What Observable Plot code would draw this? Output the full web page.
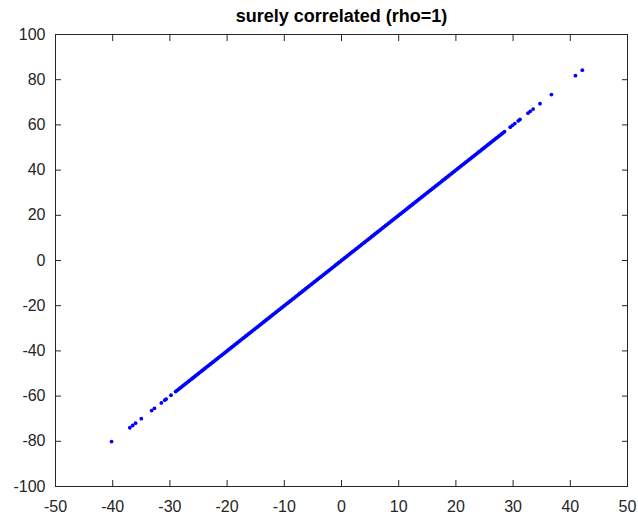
<!DOCTYPE html>
<html><head><meta charset="utf-8">
<script src="https://cdn.jsdelivr.net/npm/d3@7"></script>
<script src="https://cdn.jsdelivr.net/npm/@observablehq/plot@0.6"></script>
<style>body{margin:0;background:#fff} svg{display:block}</style>
</head><body><div id="chart"></div>
<script>
const title = "surely correlated (rho=1)";
const xTicks = [-50,-40,-30,-20,-10,0,10,20,30,40,50];
const yTicks = [-100,-80,-60,-40,-20,0,20,40,60,80,100];

const denseX = [
-29,-28.75,-28.5,-28.25,-28,-27.75,-27.5,-27.25,-27,-26.75,-26.5,-26.25,-26,-25.75,-25.5,-25.25,-25,-24.75,-24.5,-24.25,
-24,-23.75,-23.5,-23.25,-23,-22.75,-22.5,-22.25,-22,-21.75,-21.5,-21.25,-21,-20.75,-20.5,-20.25,-20,-19.75,-19.5,-19.25,
-19,-18.75,-18.5,-18.25,-18,-17.75,-17.5,-17.25,-17,-16.75,-16.5,-16.25,-16,-15.75,-15.5,-15.25,-15,-14.75,-14.5,-14.25,
-14,-13.75,-13.5,-13.25,-13,-12.75,-12.5,-12.25,-12,-11.75,-11.5,-11.25,-11,-10.75,-10.5,-10.25,-10,-9.75,-9.5,-9.25,
-9,-8.75,-8.5,-8.25,-8,-7.75,-7.5,-7.25,-7,-6.75,-6.5,-6.25,-6,-5.75,-5.5,-5.25,-5,-4.75,-4.5,-4.25,
-4,-3.75,-3.5,-3.25,-3,-2.75,-2.5,-2.25,-2,-1.75,-1.5,-1.25,-1,-0.75,-0.5,-0.25,0,0.25,0.5,0.75,
1,1.25,1.5,1.75,2,2.25,2.5,2.75,3,3.25,3.5,3.75,4,4.25,4.5,4.75,5,5.25,5.5,5.75,
6,6.25,6.5,6.75,7,7.25,7.5,7.75,8,8.25,8.5,8.75,9,9.25,9.5,9.75,10,10.25,10.5,10.75,
11,11.25,11.5,11.75,12,12.25,12.5,12.75,13,13.25,13.5,13.75,14,14.25,14.5,14.75,15,15.25,15.5,15.75,
16,16.25,16.5,16.75,17,17.25,17.5,17.75,18,18.25,18.5,18.75,19,19.25,19.5,19.75,20,20.25,20.5,20.75,
21,21.25,21.5,21.75,22,22.25,22.5,22.75,23,23.25,23.5,23.75,24,24.25,24.5,24.75,25,25.25,25.5,25.75,
26,26.25,26.5,26.75,27,27.25,27.5,27.75,28,28.25,28.5
];
const denseY = [
-58,-57.5,-57,-56.5,-56,-55.5,-55,-54.5,-54,-53.5,-53,-52.5,-52,-51.5,-51,-50.5,-50,-49.5,-49,-48.5,
-48,-47.5,-47,-46.5,-46,-45.5,-45,-44.5,-44,-43.5,-43,-42.5,-42,-41.5,-41,-40.5,-40,-39.5,-39,-38.5,
-38,-37.5,-37,-36.5,-36,-35.5,-35,-34.5,-34,-33.5,-33,-32.5,-32,-31.5,-31,-30.5,-30,-29.5,-29,-28.5,
-28,-27.5,-27,-26.5,-26,-25.5,-25,-24.5,-24,-23.5,-23,-22.5,-22,-21.5,-21,-20.5,-20,-19.5,-19,-18.5,
-18,-17.5,-17,-16.5,-16,-15.5,-15,-14.5,-14,-13.5,-13,-12.5,-12,-11.5,-11,-10.5,-10,-9.5,-9,-8.5,
-8,-7.5,-7,-6.5,-6,-5.5,-5,-4.5,-4,-3.5,-3,-2.5,-2,-1.5,-1,-0.5,0,0.5,1,1.5,
2,2.5,3,3.5,4,4.5,5,5.5,6,6.5,7,7.5,8,8.5,9,9.5,10,10.5,11,11.5,
12,12.5,13,13.5,14,14.5,15,15.5,16,16.5,17,17.5,18,18.5,19,19.5,20,20.5,21,21.5,
22,22.5,23,23.5,24,24.5,25,25.5,26,26.5,27,27.5,28,28.5,29,29.5,30,30.5,31,31.5,
32,32.5,33,33.5,34,34.5,35,35.5,36,36.5,37,37.5,38,38.5,39,39.5,40,40.5,41,41.5,
42,42.5,43,43.5,44,44.5,45,45.5,46,46.5,47,47.5,48,48.5,49,49.5,50,50.5,51,51.5,
52,52.5,53,53.5,54,54.5,55,55.5,56,56.5,57
];
const outlierX = [-40.2,-37,-36.5,-36,-35,-33.2,-32.7,-31.5,-30.9,-30.65,-29.8,29.5,29.9,30.3,30.9,31.2,32.6,33,33.5,34.7,36.7,40.9,42.1];
const outlierY = [-80.1,-74,-73,-72,-70,-66.4,-65.4,-63,-61.8,-61.3,-59.6,59,59.8,60.6,61.8,62.4,65.2,66,67,69.4,73.4,81.8,84.2];

const points = [
  ...denseX.map((x, i) => ({x, y: denseY[i]})),
  ...outlierX.map((x, i) => ({x, y: outlierY[i]}))
];

const axisColor = "#262626";
const noText = () => "";
const chart = Plot.plot({
  width: 638,
  height: 516,
  marginLeft: 55,
  marginRight: 11,
  marginTop: 34,
  marginBottom: 30,
  style: {fontFamily: "'Liberation Sans', Arial, sans-serif", fontSize: "16px", color: axisColor, background: "#fff"},
  x: {domain: [-50, 50]},
  y: {domain: [-100, 100]},
  marks: [
    Plot.dot(points, {x: "x", y: "y", r: 1.9, fill: "#0000ff", stroke: null}),
    // inward ticks on all four sides
    Plot.axisX({ticks: xTicks, anchor: "bottom", tickSize: 6, dy: -6, tickFormat: noText, label: null, stroke: axisColor}),
    Plot.axisX({ticks: xTicks, anchor: "top", tickSize: 6, dy: 6, tickFormat: noText, label: null, stroke: axisColor}),
    Plot.axisY({ticks: yTicks, anchor: "left", tickSize: 6, dx: 6, tickFormat: noText, label: null, stroke: axisColor}),
    Plot.axisY({ticks: yTicks, anchor: "right", tickSize: 6, dx: -6, tickFormat: noText, label: null, stroke: axisColor}),
    // tick labels
    Plot.axisX({ticks: xTicks, anchor: "bottom", tickSize: 0, tickPadding: 14, tickFormat: d => String(d), label: null, fill: axisColor}),
    Plot.axisY({ticks: yTicks, anchor: "left", tickSize: 0, tickPadding: 10, tickFormat: d => String(d), label: null, fill: axisColor}),
    Plot.frame({stroke: axisColor}),
    Plot.text([title], {text: d => d, frameAnchor: "top", lineAnchor: "bottom", dy: -13, fontWeight: "bold", fontSize: 18, fill: "#000"})
  ]
});
document.getElementById("chart").appendChild(chart);
</script>
</body></html>
